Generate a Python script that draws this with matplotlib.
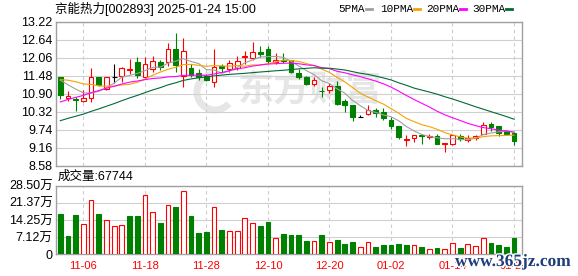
import numpy as np
import pandas as pd
import matplotlib
matplotlib.use('Agg')
import matplotlib.pyplot as plt
from matplotlib.lines import Line2D
from matplotlib.patches import Arc
import matplotlib.patheffects as pe

# 交易日 (2024-11-01 ~ 2025-01-24)
dates = ['11-01', '11-04', '11-05', '11-06', '11-07', '11-08', '11-11', '11-12', '11-13', '11-14',
         '11-15', '11-18', '11-19', '11-20', '11-21', '11-22', '11-25', '11-26', '11-27', '11-28',
         '11-29', '12-02', '12-03', '12-04', '12-05', '12-06', '12-09', '12-10', '12-11', '12-12',
         '12-13', '12-16', '12-17', '12-18', '12-19', '12-20', '12-23', '12-24', '12-25', '12-26',
         '12-27', '12-30', '12-31', '01-02', '01-03', '01-06', '01-07', '01-08', '01-09', '01-10',
         '01-13', '01-14', '01-15', '01-16', '01-17', '01-20', '01-21', '01-22', '01-23', '01-24']

open_ = [11.42, 10.77, 10.72, 10.66, 10.77, 11.42, 11.06, 11.42, 11.48, 11.67,
         11.91, 11.42, 11.68, 11.91, 11.91, 12.35, 11.46, 11.71, 11.55, 11.47,
         11.28, 11.79, 11.70, 11.72, 12.09, 12.06, 12.24, 12.34, 11.93, 11.99,
         11.97, 11.55, 11.42, 11.22, 10.99, 11.01, 11.14, 10.67, 10.52, 10.14,
         10.23, 10.38, 10.30, 10.06, 9.85, 9.39, 9.47, 9.56, 9.49, 9.53,
         9.28, 9.28, 9.54, 9.41, 9.47, 9.60, 9.93, 9.86, 9.69, 9.62]
high = [11.43, 10.97, 10.80, 11.03, 11.74, 11.43, 11.45, 11.85, 11.77, 12.03,
        12.07, 12.09, 12.11, 11.98, 12.52, 12.86, 12.70, 11.85, 11.68, 11.52,
        12.35, 11.87, 11.98, 12.11, 12.28, 12.56, 12.45, 12.45, 12.20, 12.20,
        11.99, 11.68, 11.46, 11.44, 11.11, 11.24, 11.30, 10.71, 10.54, 10.20,
        10.52, 10.43, 10.43, 10.14, 9.86, 9.58, 9.57, 9.58, 9.61, 9.61,
        9.31, 9.58, 9.60, 9.58, 9.58, 9.99, 9.98, 9.87, 9.74, 9.63]
low = [10.73, 10.65, 10.34, 10.63, 10.63, 11.14, 11.02, 11.24, 11.28, 11.53,
       11.40, 11.40, 11.59, 11.66, 11.79, 11.60, 11.11, 11.42, 11.33, 11.30,
       11.11, 11.60, 11.61, 11.66, 11.87, 12.00, 12.08, 11.89, 11.87, 11.88,
       11.58, 11.37, 11.17, 11.16, 10.79, 10.92, 10.52, 10.30, 10.03, 10.14,
       10.22, 10.14, 10.05, 9.77, 9.44, 9.21, 9.33, 9.27, 9.44, 9.27,
       9.00, 9.23, 9.36, 9.34, 9.40, 9.59, 9.68, 9.52, 9.57, 9.25]
close = [10.85, 10.83, 10.70, 10.75, 11.42, 11.17, 11.42, 11.42, 11.73, 11.69,
         11.49, 11.87, 11.96, 11.76, 12.33, 11.82, 12.28, 11.49, 11.43, 11.35,
         11.76, 11.74, 11.89, 11.96, 12.12, 12.24, 12.19, 11.96, 11.99, 11.96,
         11.61, 11.44, 11.22, 11.33, 10.97, 11.16, 10.58, 10.53, 10.16, 10.14,
         10.38, 10.27, 10.12, 9.86, 9.49, 9.45, 9.56, 9.54, 9.54, 9.28,
         9.30, 9.56, 9.43, 9.47, 9.54, 9.88, 9.82, 9.62, 9.61, 9.36]

# 图中区间之前的收盘价(估计), 只用于计算均线起点
pre_close = [8.60, 8.65, 8.70, 8.75, 8.80, 8.82, 8.88, 8.92, 9.00, 9.08,
             9.20, 9.35, 9.50, 9.65, 9.80, 9.95, 10.10, 10.30, 10.50, 10.75,
             11.00, 11.20, 11.45, 11.60, 11.60, 11.55, 11.40, 11.35, 11.50]

# 成交量(手)
volume = [167000, 76000, 163000, 126000, 225000, 167000, 142000, 118000, 122000, 159000,
          159000, 246000, 176000, 130000, 205000, 196000, 263000, 159000, 89000, 93000,
          196000, 101000, 97000, 97000, 151000, 130000, 118000, 134000, 68000, 84000,
          80000, 80000, 55000, 55000, 80000, 51000, 59000, 43000, 51000, 29000,
          51000, 30000, 39000, 39000, 43000, 39000, 39000, 30000, 22000, 26000,
          22000, 46000, 26000, 43000, 35000, 68000, 47000, 39000, 30000, 67744]
vol_dir = "gggrrgrrrggrrgrgrgggrgrrrrggrg" + "gggrgrgggrrgggggrgrgrrgrrrgggg"

price_ticks = [8.58, 9.16, 9.74, 10.32, 10.90, 11.48, 12.06, 12.64, 13.22]
vol_ticks = [0, 71250, 142500, 213750, 285000]
vol_tick_labels = ['0', '7.12万', '14.25万', '21.37万', '28.50万']

ma_windows = [5, 10, 20, 30]
ma_names = ['5PMA', '10PMA', '20PMA', '30PMA']
ma_colors = ['#a0a0a0', '#f5a300', '#ff00ff', '#006b35']

RED = '#ff0000'
GREEN = '#008000'

plt.rcParams['font.family'] = ['Liberation Sans', 'Noto Sans CJK SC']

W, H = 578, 276
fig = plt.figure(figsize=(W / 100, H / 100), dpi=100)
ax = fig.add_axes([56 / W, 1 - 165.5 / H, 466 / W, 143.8 / H])
axv = fig.add_axes([56 / W, 1 - 254.3 / H, 466 / W, 68.6 / H])

x = np.arange(len(dates))
o = np.array(open_)
c = np.array(close)
h = np.array(high)
l = np.array(low)

# K线
cols = np.where(c > o, RED, np.where(c < o, GREEN, 'black'))
faces = np.where(c > o, 'white', cols)
ax.vlines(x, l, h, colors=cols, lw=0.8, zorder=3)
ax.bar(x, np.abs(c - o), bottom=np.minimum(o, c), width=0.62,
       color=faces, edgecolor=cols, lw=0.8, zorder=4)

# 均线
all_close = pd.Series(pre_close + close)
for w, col in zip(ma_windows, ma_colors):
    ma = all_close.rolling(w).mean().to_numpy()[len(pre_close):]
    ax.plot(x, ma, color=col, lw=0.8, zorder=5)

# 水印
ax.text(310 / W, 1 - 90 / H, '东方财富', transform=fig.transFigure, fontsize=26,
        fontweight='bold', color='#e6e6e6', ha='center', va='center',
        family='Noto Sans CJK SC', zorder=1)
ax.add_artist(Arc((2.15, (H - 92) / 100), 0.36, 0.36, theta1=100, theta2=320,
                  lw=5, color='#e6e6e6', transform=fig.dpi_scale_trans, zorder=1))

# 成交量
vcols = [RED if d == 'r' else GREEN for d in vol_dir]
vfaces = ['white' if d == 'r' else GREEN for d in vol_dir]
axv.bar(x, volume, width=0.62, color=vfaces, edgecolor=vcols, lw=0.8, zorder=3)

for a in (ax, axv):
    a.set_xlim(-0.56, 60.04)
    a.set_xticks(x[3::8])
    a.grid(axis='y', color='#d0d0d0', lw=0.8)
    a.grid(axis='x', color='#cccccc', lw=0.8, linestyle=(0, (3, 3)))
    a.tick_params(length=0, labelsize=9, pad=2.4)
    for s in a.spines.values():
        s.set_color('#a0a0a0')
        s.set_linewidth(1.0)

ax.set_ylim(8.58, 13.22)
ax.set_yticks(price_ticks)
ax.set_yticklabels([f'{t:.2f}' for t in price_ticks])
ax.set_xticklabels([])

axv.set_ylim(0, 285000)
axv.set_yticks(vol_ticks)
axv.set_yticklabels(vol_tick_labels)
axv.set_xticklabels(dates[3::8], color=RED, fontsize=8)
axv.tick_params(axis='x', pad=5)

# 标题与图例
fig.text(55 / W, 1 - 9 / H, '京能热力[002893] 2025-01-24 15:00', fontsize=9, va='center')
legend_x = [338, 380, 426, 472]
for lx, name, col in zip(legend_x, ma_names, ma_colors):
    t = fig.text(lx / W, 1 - 9 / H, name, fontsize=8, va='center', family='Liberation Mono')
    end = lx + 6.2 * len(name) + 3
    fig.add_artist(Line2D([end / W, (end + 6) / W], [1 - 9 / H, 1 - 9 / H], color=col, lw=2))

fig.text(58 / W, 1 - 177 / H, '成交量:67744', fontsize=9, va='center')

fig.text(455 / W, 1 - 262 / H, 'www.365jz.com', fontsize=12.5, va='center',
         family='Liberation Serif', fontweight='bold', color='#1f3d7a',
         path_effects=[pe.withStroke(linewidth=2, foreground='white')])

fig.savefig('out.png', dpi=100)
